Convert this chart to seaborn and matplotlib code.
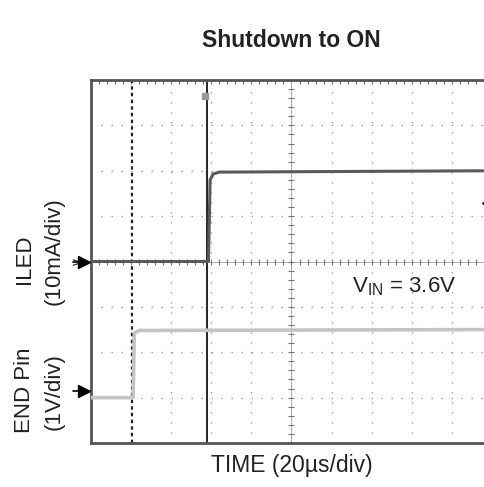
import numpy as np
import pandas as pd
import matplotlib.pyplot as plt
import seaborn as sns

# scope screen, in divisions (10 x 8)
iled_t = [0.0, 2.93, 2.97, 3.05, 3.2, 10.0]
iled_v = [4.0, 4.0, 5.8, 5.93, 5.97, 6.0]
end_t = [0.0, 1.05, 1.08, 1.2, 10.0]
end_v = [1.0, 1.0, 2.42, 2.48, 2.5]
iled_ref = 4.0
end_ref = 1.15
cursor_a = 1.03
cursor_b = 2.9

sns.set_style("white")
plt.rcParams['font.family'] = ['Liberation Sans', 'DejaVu Sans']

fig = plt.figure(figsize=(4.85, 4.87), dpi=100)
ax = fig.add_axes([91 / 485, 44 / 487, 401 / 485, 363 / 487])

# dotted grid
for gx in range(1, 10):
    if gx == 5:
        continue
    ax.axvline(gx, color='#888888', lw=0.9, ls=(0, (1, 7)), zorder=1)
for gy in range(1, 8):
    if gy == 4:
        continue
    ax.axhline(gy, color='#888888', lw=0.9, ls=(0, (1, 7)), zorder=1)

# center axes with ticks
ax.axhline(4, color='#aaaaaa', lw=0.7, zorder=1)
ax.axvline(5, color='#aaaaaa', lw=0.7, zorder=1)
tx = np.arange(0, 10.01, 0.2)
ty = np.arange(0, 8.01, 0.2)
ax.plot(tx, np.full_like(tx, 4), ls='none', marker='|', ms=5, color='#777777', mew=0.8, zorder=1)
ax.plot(np.full_like(ty, 5), ty, ls='none', marker='_', ms=5, color='#777777', mew=0.8, zorder=1)

# cursors
ax.axvline(cursor_a, color='#222222', lw=1.6, ls=(0, (1.5, 1.5)), zorder=2)
ax.axvline(cursor_b, color='black', lw=1.2, zorder=2)
ax.plot([cursor_b - 0.06], [7.65], marker='s', ms=5, color='#999999', zorder=3)

df_iled = pd.DataFrame({'t': iled_t, 'v': iled_v})
df_end = pd.DataFrame({'t': end_t, 'v': end_v})
sns.lineplot(data=df_end, x='t', y='v', ax=ax, color='#c4c4c4', lw=2.6, zorder=4)
sns.lineplot(data=df_iled, x='t', y='v', ax=ax, color='#5a5a5a', lw=2.2, zorder=5)

ax.set_xlim(0, 10)
ax.set_ylim(0, 8)
ax.set_xticks(np.arange(0, 10.01, 0.2))
ax.set_yticks(np.arange(0, 8.01, 0.2))
ax.tick_params(axis='both', which='both', direction='in', length=3, width=0.8,
               color='#666666', top=True, right=True, labelleft=False, labelbottom=False)
for s in ax.spines.values():
    s.set_color('#555555')
    s.set_linewidth(2)

# ground markers
for yr in (iled_ref, end_ref):
    ax.plot([-0.45, -0.2], [yr, yr], color='black', lw=1.2, clip_on=False, zorder=6)
    ax.plot([-0.17], [yr], marker='>', ms=8, color='black', clip_on=False, zorder=6)
ax.plot([9.9], [5.29], marker='<', ms=8, color='black', clip_on=False, zorder=6)

ax.text(6.5, 3.45, r'V$_{\mathregular{IN}}$ = 3.6V', fontsize=16, color='#222222', va='center')

ax.set_title('Shutdown to ON', fontsize=16.5, fontweight='bold', color='#222222', pad=24)
ax.set_xlabel('TIME (20µs/div)', fontsize=16.5, color='#222222', labelpad=8)

fig.text(25 / 485, 1 - 259 / 487, 'ILED', rotation=90, fontsize=16, ha='center', va='center', color='#222222')
fig.text(54 / 485, 1 - 251 / 487, '(10mA/div)', rotation=90, fontsize=16, ha='center', va='center', color='#222222')
fig.text(25 / 485, 1 - 390 / 487, 'END Pin', rotation=90, fontsize=16, ha='center', va='center', color='#222222')
fig.text(54 / 485, 1 - 392 / 487, '(1V/div)', rotation=90, fontsize=16, ha='center', va='center', color='#222222')

fig.savefig('out.png', dpi=100)
